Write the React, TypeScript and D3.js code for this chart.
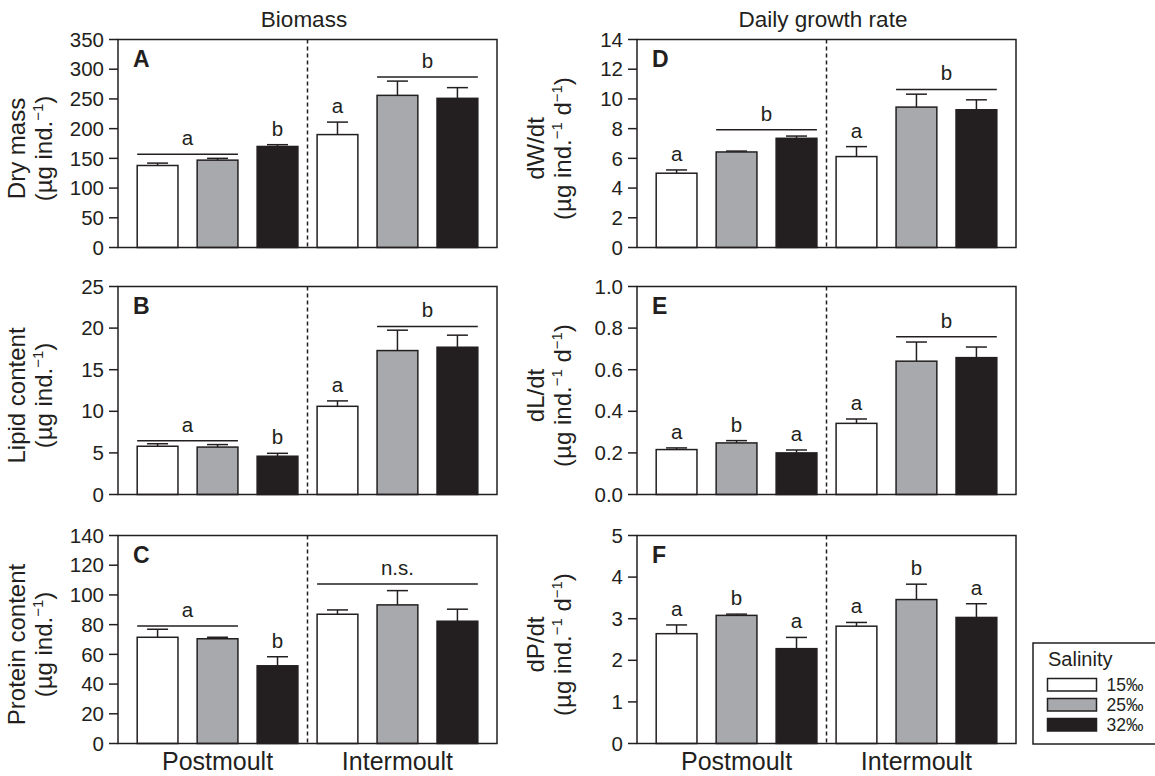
import React from "react";
import * as d3 from "d3";

// ---------- data ----------
const groups = ["Postmoult", "Intermoult"];
const salinityLevels = ["15‰", "25‰", "32‰"];
const columnTitles = ["Biomass", "Daily growth rate"];
// bar order: Postmoult 15,25,32 then Intermoult 15,25,32
const dryMassMean = [138, 147, 170, 190, 256, 251];
const dryMassSE = [4, 3, 3, 21, 24, 18];
const lipidMean = [5.8, 5.7, 4.6, 10.6, 17.3, 17.7];
const lipidSE = [0.3, 0.3, 0.35, 0.65, 2.45, 1.45];
const proteinMean = [71.5, 70.5, 52.3, 87, 93.3, 82.3];
const proteinSE = [5.4, 1.0, 6.1, 2.9, 9.6, 8.1];
const dWdtMean = [5.0, 6.43, 7.35, 6.12, 9.45, 9.27];
const dWdtSE = [0.22, 0.06, 0.15, 0.67, 0.87, 0.67];
const dLdtMean = [0.216, 0.248, 0.2, 0.342, 0.641, 0.658];
const dLdtSE = [0.008, 0.011, 0.014, 0.021, 0.092, 0.051];
const dPdtMean = [2.64, 3.08, 2.28, 2.82, 3.46, 3.03];
const dPdtSE = [0.21, 0.03, 0.27, 0.09, 0.37, 0.33];

const unitBiomass = [["(µg ind.", false], ["−1", true], [")", false]];
const unitRate = [["(µg ind.", false], ["−1", true], [" d", false], ["−1", true], [")", false]];

// significance groupings: [fromBar, toBar, yValue, label]
const sigLinesA = [[0, 1, 157, "a"], [4, 5, 287, "b"]];
const sigLettersA = [[2, "b"], [3, "a"]];
const sigLinesB = [[0, 1, 6.47, "a"], [4, 5, 20.2, "b"]];
const sigLettersB = [[2, "b"], [3, "a"]];
const sigLinesC = [[0, 1, 79.1, "a"], [3, 5, 107.4, "n.s."]];
const sigLettersC = [[2, "b"]];
const sigLinesD = [[1, 2, 7.93, "b"], [4, 5, 10.64, "b"]];
const sigLettersD = [[0, "a"], [3, "a"]];
const sigLinesE = [[4, 5, 0.759, "b"]];
const sigLettersE = [[0, "a"], [1, "b"], [2, "a"], [3, "a"]];
const sigLinesF: any[] = [];
const sigLettersF = [[0, "a"], [1, "b"], [2, "a"], [3, "a"], [4, "b"], [5, "a"]];

const panels = [
  { id: "A", col: 0, row: 0, mean: dryMassMean, se: dryMassSE, max: 350, step: 50, fmt: "d", title: "Dry mass", unit: unitBiomass, lines: sigLinesA, letters: sigLettersA },
  { id: "B", col: 0, row: 1, mean: lipidMean, se: lipidSE, max: 25, step: 5, fmt: "d", title: "Lipid content", unit: unitBiomass, lines: sigLinesB, letters: sigLettersB },
  { id: "C", col: 0, row: 2, mean: proteinMean, se: proteinSE, max: 140, step: 20, fmt: "d", title: "Protein content", unit: unitBiomass, lines: sigLinesC, letters: sigLettersC },
  { id: "D", col: 1, row: 0, mean: dWdtMean, se: dWdtSE, max: 14, step: 2, fmt: "d", title: "dW/dt", unit: unitRate, lines: sigLinesD, letters: sigLettersD },
  { id: "E", col: 1, row: 1, mean: dLdtMean, se: dLdtSE, max: 1, step: 0.2, fmt: ".1f", title: "dL/dt", unit: unitRate, lines: sigLinesE, letters: sigLettersE },
  { id: "F", col: 1, row: 2, mean: dPdtMean, se: dPdtSE, max: 5, step: 1, fmt: "d", title: "dP/dt", unit: unitRate, lines: sigLinesF, letters: sigLettersF },
];

// ---------- style / layout ----------
const W = 1155;
const H = 776;
const FONT = "'Liberation Sans', Arial, Helvetica, sans-serif";
const INK = "#231f20";
const FILLS = ["#ffffff", "#a7a9ac", "#231f20"];
const colX = [118, 637];
const rowY = [39.5, 286.5, 535.5];
const PW = 379;
const PH = 208;
const SW = 1.5;

function Panel({ p }: { p: any }) {
  const x0 = colX[p.col];
  const y0 = rowY[p.row];
  const bars = d3.range(6);
  const x = d3.scaleBand<number>().domain(bars).range([x0, x0 + PW]).paddingInner(0.32).paddingOuter(0.32);
  const y = d3.scaleLinear().domain([0, p.max]).range([y0 + PH, y0]);
  const ticks = d3.range(0, p.max + p.step / 2, p.step);
  const f = d3.format(p.fmt);
  const bw = x.bandwidth();
  const cx = (i: number) => (x(i) as number) + bw / 2;
  const midY = y0 + PH / 2 + 5;
  return (
    <g>
      {/* y axis ticks */}
      {ticks.map((t: number, i: number) => (
        <g key={i}>
          <line x1={x0 - 9} x2={x0} y1={y(t)} y2={y(t)} stroke={INK} strokeWidth={SW} />
          <text x={x0 - 14} y={y(t)} dy="0.35em" textAnchor="end" fontSize={20.5} fill={INK}>
            {f(t)}
          </text>
        </g>
      ))}
      {/* y label */}
      <text transform={`translate(${x0 - 93},${midY}) rotate(-90)`} textAnchor="middle" fontSize={24} fill={INK}>
        {p.title}
      </text>
      <text transform={`translate(${x0 - 66},${midY}) rotate(-90)`} textAnchor="middle" fontSize={24} fill={INK}>
        {p.unit.map((s: any, i: number) => {
          const prevSup = i > 0 && p.unit[i - 1][1];
          if (s[1]) {
            return (
              <tspan key={i} dy={-9} fontSize={15}>
                {s[0]}
              </tspan>
            );
          }
          return (
            <tspan key={i} dy={prevSup ? 9 : 0}>
              {s[0]}
            </tspan>
          );
        })}
      </text>
      {/* bars */}
      {bars.map((i: number) => {
        const top = y(p.mean[i]);
        const et = y(p.mean[i] + p.se[i]);
        return (
          <g key={i}>
            <line x1={cx(i)} x2={cx(i)} y1={top} y2={et} stroke={INK} strokeWidth={SW} />
            <line x1={cx(i) - 10.5} x2={cx(i) + 10.5} y1={et} y2={et} stroke={INK} strokeWidth={SW} />
            <rect x={x(i)} y={top} width={bw} height={y(0) - top} fill={FILLS[i % 3]} stroke={INK} strokeWidth={SW} />
          </g>
        );
      })}
      {/* dashed separator */}
      <line x1={x0 + PW / 2} x2={x0 + PW / 2} y1={y0} y2={y0 + PH} stroke={INK} strokeWidth={1.5} strokeDasharray="4,3" />
      {/* frame */}
      <rect x={x0} y={y0} width={PW} height={PH} fill="none" stroke={INK} strokeWidth={SW} />
      {/* panel letter */}
      <text x={x0 + 15} y={y0 + 27} fontSize={23} fontWeight="bold" fill={INK}>
        {p.id}
      </text>
      {/* significance lines */}
      {p.lines.map((l: any, i: number) => {
        const xa = x(l[0]) as number;
        const xb = (x(l[1]) as number) + bw;
        return (
          <g key={i}>
            <line x1={xa} x2={xb} y1={y(l[2])} y2={y(l[2])} stroke={INK} strokeWidth={SW} />
            <text x={(xa + xb) / 2} y={y(l[2]) - 9} textAnchor="middle" fontSize={20.5} fill={INK}>
              {l[3]}
            </text>
          </g>
        );
      })}
      {p.letters.map((l: any, i: number) => (
        <text key={i} x={cx(l[0])} y={y(p.mean[l[0]] + p.se[l[0]]) - 9} textAnchor="middle" fontSize={20.5} fill={INK}>
          {l[1]}
        </text>
      ))}
      {/* x category labels */}
      {p.row === 2 &&
        groups.map((g: string, gi: number) => (
          <text key={g} x={cx(gi * 3 + 1)} y={770} textAnchor="middle" fontSize={25} fill={INK}>
            {g}
          </text>
        ))}
    </g>
  );
}

export default function App() {
  const legendY = [678.5, 698.5, 718.5];
  return (
    <svg
      width={W}
      height={H}
      style={{ position: "absolute", left: 0, top: 0, background: "#fff" }}
      fontFamily={FONT}
    >
      <rect x={0} y={0} width={W} height={H} fill="#fff" />
      {columnTitles.map((t, i) => (
        <text key={t} x={colX[i] + 186} y={26.5} textAnchor="middle" fontSize={22.5} fill={INK}>
          {t}
        </text>
      ))}
      {panels.map((p) => (
        <Panel key={p.id} p={p} />
      ))}
      {/* legend */}
      <g>
        <rect x={1033} y={643} width={200} height={101} fill="#fff" stroke={INK} strokeWidth={SW} />
        <text x={1048} y={665.5} fontSize={20} fill={INK}>
          Salinity
        </text>
        {salinityLevels.map((s, i) => (
          <g key={s}>
            <rect x={1047.5} y={legendY[i]} width={49} height={12.5} fill={FILLS[i]} stroke={INK} strokeWidth={SW} />
            <text x={1106.5} y={legendY[i] + 12.5} fontSize={17.5} fill={INK}>
              {s}
            </text>
          </g>
        ))}
      </g>
    </svg>
  );
}
